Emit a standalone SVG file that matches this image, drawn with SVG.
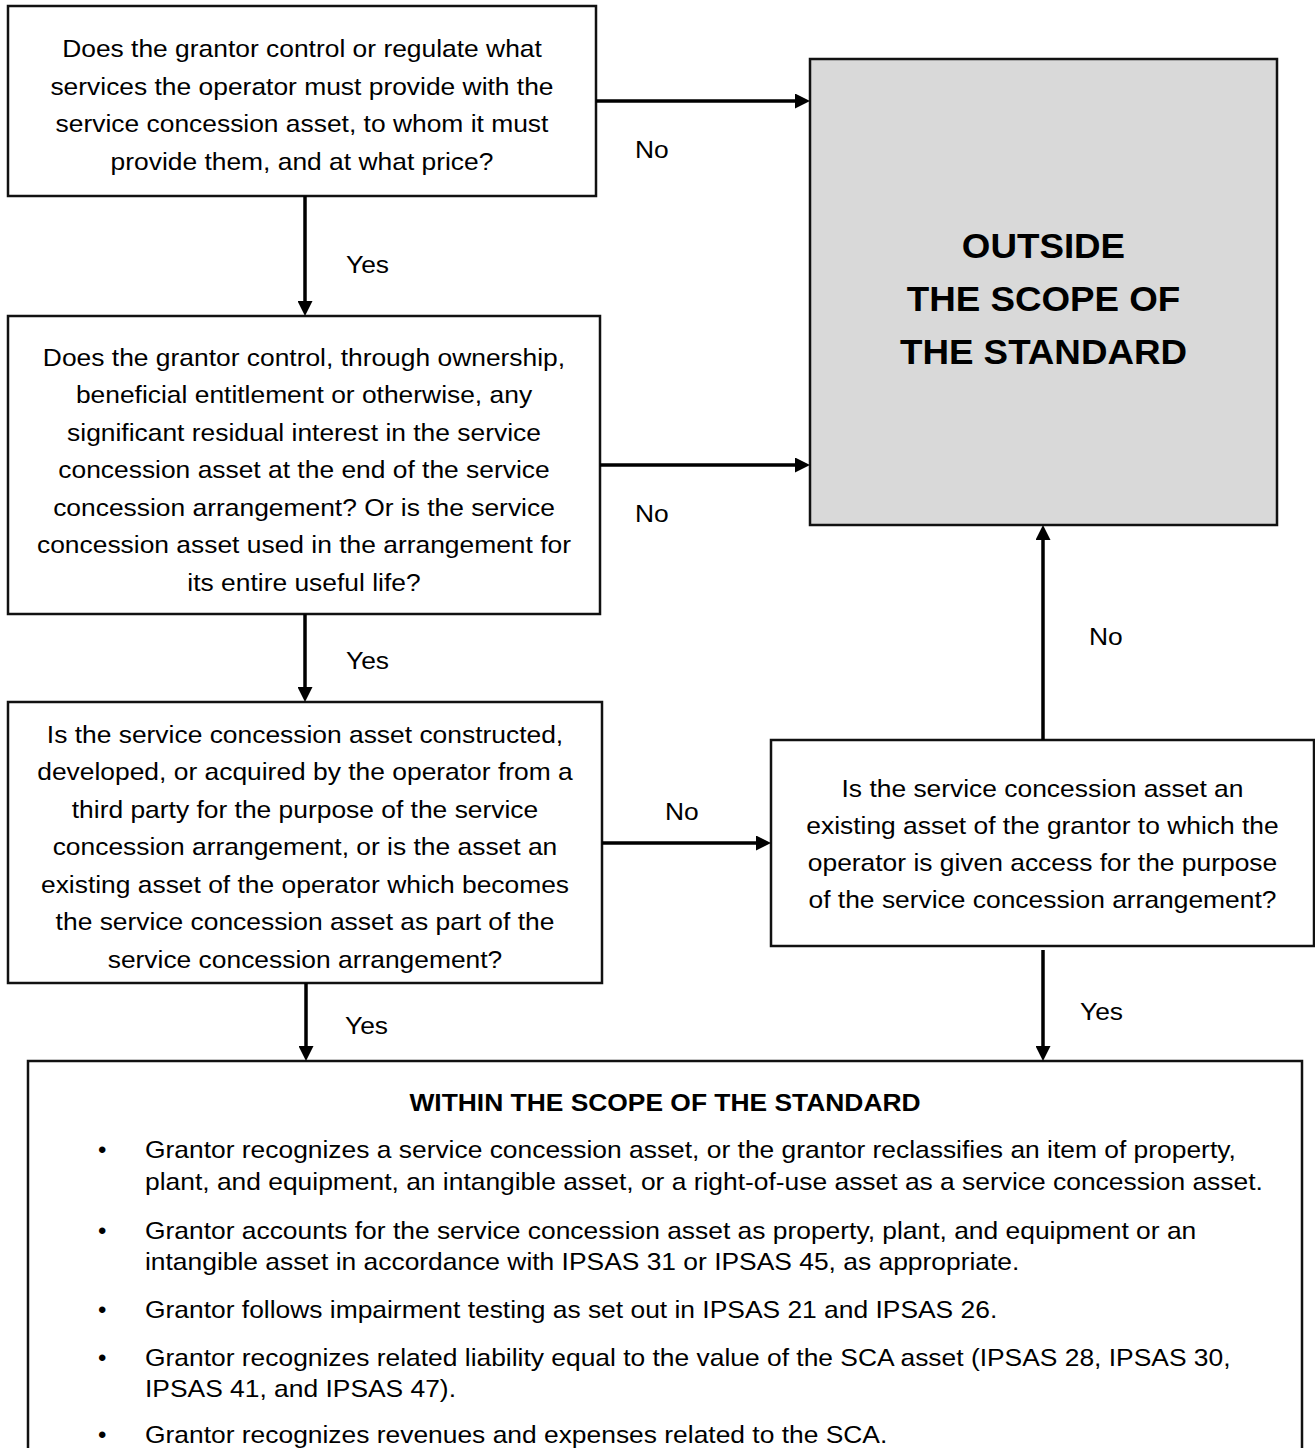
<svg xmlns="http://www.w3.org/2000/svg" width="1315" height="1448" viewBox="0 0 1315 1448">
  <defs>
    <style>
      .box { fill: #ffffff; stroke: #111111; stroke-width: 2.5; }
      .grey { fill: #d9d9d9; stroke: #111111; stroke-width: 2.5; }
      .t { font-family: "Liberation Sans", Arial, sans-serif; font-size: 24px; fill: #000000; }
      .c { text-anchor: middle; }
      .bold { font-weight: bold; }
      .big { font-family: "Liberation Sans", Arial, sans-serif; font-size: 35px; font-weight: bold; text-anchor: middle; fill: #000000; }
      .conn { fill: none; stroke: #000000; stroke-width: 3.5; marker-end: url(#arrow); }
    </style>
    <marker id="arrow" markerUnits="userSpaceOnUse" markerWidth="15" markerHeight="15" refX="0" refY="7.5" orient="auto">
      <path d="M0,0 L15,7.5 L0,15 Z" fill="#000000"/>
    </marker>
  </defs>

  <g id="q1">
    <rect class="box" x="8" y="6" width="588" height="190"/>
    <g class="t c" transform="translate(302 0) scale(1.1 1) translate(-302 0)">
      <text x="302" y="57">Does the grantor control or regulate what</text>
      <text x="302" y="95">services the operator must provide with the</text>
      <text x="302" y="132">service concession asset, to whom it must</text>
      <text x="302" y="170">provide them, and at what price?</text>
    </g>
  </g>

  <g id="q2">
    <rect class="box" x="8" y="316" width="592" height="298"/>
    <g class="t c" transform="translate(304 0) scale(1.1 1) translate(-304 0)">
      <text x="304" y="366">Does the grantor control, through ownership,</text>
      <text x="304" y="403.5">beneficial entitlement or otherwise, any</text>
      <text x="304" y="441">significant residual interest in the service</text>
      <text x="304" y="478.5">concession asset at the end of the service</text>
      <text x="304" y="516">concession arrangement? Or is the service</text>
      <text x="304" y="553.5">concession asset used in the arrangement for</text>
      <text x="304" y="591">its entire useful life?</text>
    </g>
  </g>

  <g id="q3">
    <rect class="box" x="8" y="702" width="594" height="281"/>
    <g class="t c" transform="translate(305 0) scale(1.1 1) translate(-305 0)">
      <text x="305" y="743">Is the service concession asset constructed,</text>
      <text x="305" y="780.5">developed, or acquired by the operator from a</text>
      <text x="305" y="818">third party for the purpose of the service</text>
      <text x="305" y="855.5">concession arrangement, or is the asset an</text>
      <text x="305" y="893">existing asset of the operator which becomes</text>
      <text x="305" y="930.5">the service concession asset as part of the</text>
      <text x="305" y="968">service concession arrangement?</text>
    </g>
  </g>

  <g id="q4">
    <rect class="box" x="771" y="740" width="543" height="206"/>
    <g class="t c" transform="translate(1042.5 0) scale(1.1 1) translate(-1042.5 0)">
      <text x="1042.5" y="797">Is the service concession asset an</text>
      <text x="1042.5" y="834">existing asset of the grantor to which the</text>
      <text x="1042.5" y="871">operator is given access for the purpose</text>
      <text x="1042.5" y="908">of the service concession arrangement?</text>
    </g>
  </g>

  <g id="outside">
    <rect class="grey" x="810" y="59" width="467" height="466"/>
    <g transform="translate(1043.5 0) scale(1.05 1) translate(-1043.5 0)">
      <text class="big" x="1043.5" y="258">OUTSIDE</text>
      <text class="big" x="1043.5" y="311">THE SCOPE OF</text>
      <text class="big" x="1043.5" y="364">THE STANDARD</text>
    </g>
  </g>

  <g id="within">
    <rect class="box" x="28" y="1061" width="1274" height="420"/>
    <g transform="translate(665 0) scale(1.1 1) translate(-665 0)">
      <text class="t c bold" x="665" y="1111">WITHIN THE SCOPE OF THE STANDARD</text>
    </g>
    <g class="t">
      <text x="98" y="1158">•</text>
      <text x="98" y="1239">•</text>
      <text x="98" y="1318">•</text>
      <text x="98" y="1366">•</text>
      <text x="98" y="1443">•</text>
    </g>
    <g class="t" transform="translate(145 0) scale(1.1 1) translate(-145 0)">
      <text x="145" y="1158">Grantor recognizes a service concession asset, or the grantor reclassifies an item of property,</text>
      <text x="145" y="1190">plant, and equipment, an intangible asset, or a right-of-use asset as a service concession asset.</text>
      <text x="145" y="1239">Grantor accounts for the service concession asset as property, plant, and equipment or an</text>
      <text x="145" y="1270">intangible asset in accordance with IPSAS 31 or IPSAS 45, as appropriate.</text>
      <text x="145" y="1318">Grantor follows impairment testing as set out in IPSAS 21 and IPSAS 26.</text>
      <text x="145" y="1366">Grantor recognizes related liability equal to the value of the SCA asset (IPSAS 28, IPSAS 30,</text>
      <text x="145" y="1397">IPSAS 41, and IPSAS 47).</text>
      <text x="145" y="1443">Grantor recognizes revenues and expenses related to the SCA.</text>
    </g>
  </g>

  <g id="connectors">
    <path class="conn" d="M596,101 H795"/>
    <path class="conn" d="M600,465 H795"/>
    <path class="conn" d="M602,843 H756"/>
    <path class="conn" d="M1043,740 V540"/>
    <path class="conn" d="M305,196 V301"/>
    <path class="conn" d="M305,614 V687"/>
    <path class="conn" d="M306,983 V1046"/>
    <path class="conn" d="M1043,950 V1046"/>
  </g>

  <g id="labels" class="t" >
    <g transform="translate(635 0) scale(1.1 1) translate(-635 0)"><text x="635" y="158">No</text></g>
    <g transform="translate(346 0) scale(1.1 1) translate(-346 0)"><text x="346" y="273">Yes</text></g>
    <g transform="translate(635 0) scale(1.1 1) translate(-635 0)"><text x="635" y="522">No</text></g>
    <g transform="translate(346 0) scale(1.1 1) translate(-346 0)"><text x="346" y="669">Yes</text></g>
    <g transform="translate(665 0) scale(1.1 1) translate(-665 0)"><text x="665" y="820">No</text></g>
    <g transform="translate(1089 0) scale(1.1 1) translate(-1089 0)"><text x="1089" y="645">No</text></g>
    <g transform="translate(1080 0) scale(1.1 1) translate(-1080 0)"><text x="1080" y="1020">Yes</text></g>
    <g transform="translate(345 0) scale(1.1 1) translate(-345 0)"><text x="345" y="1034">Yes</text></g>
  </g>
</svg>
